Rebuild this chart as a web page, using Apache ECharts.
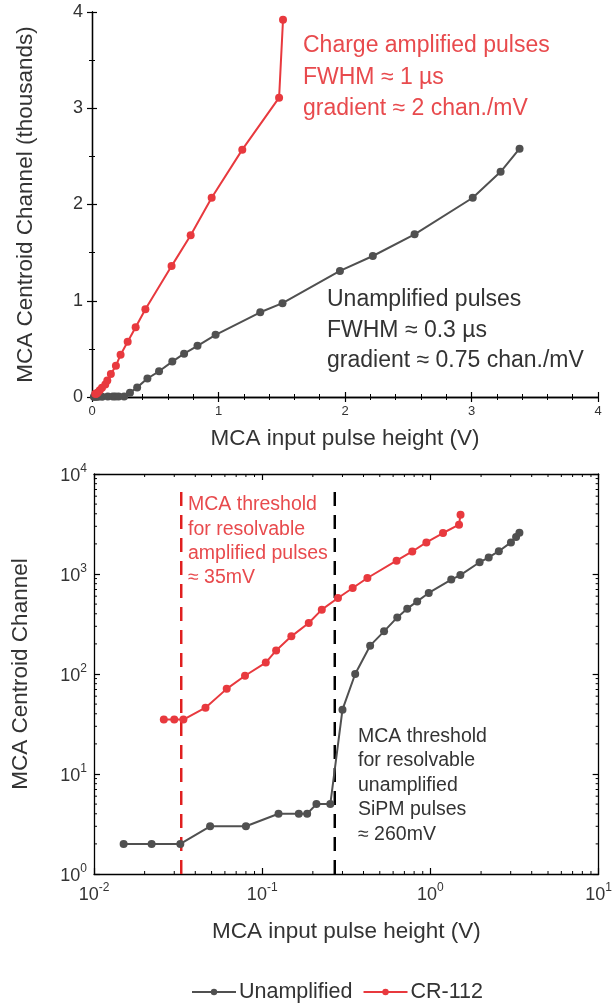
<!DOCTYPE html>
<html><head><meta charset="utf-8">
<script src="https://cdn.jsdelivr.net/npm/echarts@6/dist/echarts.min.js"></script>
<style>html,body{margin:0;padding:0;background:#fff}#c{width:615px;height:1003px}</style>
</head><body><div id="c"></div>
<script>
// ---- data (pulse height in V, centroid channel) ----
const unampX = [0.015, 0.022, 0.0326, 0.049, 0.080, 0.125, 0.165, 0.185, 0.21, 0.254, 0.30, 0.357, 0.438, 0.53, 0.635, 0.728, 0.834, 0.977, 1.33, 1.506, 1.96, 2.22, 2.55, 3.01, 3.23, 3.38];
const unampY = [2, 2, 2, 3, 3, 4, 4, 4, 5, 5, 44, 100, 192, 267, 368, 450, 532, 646, 880, 975, 1310, 1465, 1690, 2070, 2340, 2580];
const ampX = [0.026, 0.030, 0.034, 0.046, 0.0615, 0.079, 0.105, 0.121, 0.149, 0.189, 0.226, 0.282, 0.345, 0.422, 0.629, 0.78, 0.946, 1.188, 1.479, 1.51];
const ampY = [35, 35, 35, 46, 71, 96, 130, 172, 238, 324, 440, 575, 724, 912, 1360, 1680, 2070, 2570, 3110, 3920];
const seriesNames = ['Unamplified', 'CR-112'];
const thresholdAmp = 0.033;   // V
const thresholdUnamp = 0.27;  // V
const thresholdSpan = [1, 8000]; // channel range of the dashed threshold lines
const logMinorX = [0.02,0.03,0.04,0.05,0.06,0.07,0.08,0.09,0.2,0.3,0.4,0.5,0.6,0.7,0.8,0.9,2,3,4,5,6,7,8,9];
const logMinorY = [2,3,4,5,6,7,8,9,20,30,40,50,60,70,80,90,200,300,400,500,600,700,800,900,2000,3000,4000,5000,6000,7000,8000,9000];

const FONT = 'Liberation Sans, Arial, sans-serif';
const GRAY = '#505050';
const RED = '#e8393e';
const TXT = '#333333';

const pair = (xs, ys, k) => xs.map((x, i) => [x, ys[i] / k]);

const linAxisCommon = {
  type: 'value', min: 0, max: 4, interval: 1,
  axisLine: { show: true, lineStyle: { color: '#000', width: 1.3 } },
  axisTick: { show: true, inside: true, length: 5, lineStyle: { color: '#000', width: 1.2 } },
  splitLine: { show: false },
};
const logAxisCommon = {
  type: 'log', logBase: 10,
  axisLine: { show: true, lineStyle: { color: '#000', width: 1.3 } },
  axisTick: { show: true, inside: true, length: 6, lineStyle: { color: '#000', width: 1.2 } },
  splitLine: { show: false },
  minorTick: { show: false }
};
const logLabel = {
  fontFamily: FONT, color: TXT,
  formatter: v => '{b|10}{s|' + Math.round(Math.log10(v)) + '}',
  rich: {
    b: { fontSize: 18, lineHeight: 22, fontFamily: FONT, color: TXT, verticalAlign: 'bottom' },
    s: { fontSize: 12, lineHeight: 12, fontFamily: FONT, color: TXT, verticalAlign: 'top' }
  }
};

const chart = echarts.init(document.getElementById('c'), null, { renderer: 'canvas' });

const lineSeries = (name, data, color, xi, yi) => ({
  name, type: 'line', data, xAxisIndex: xi, yAxisIndex: yi,
  symbol: 'circle', symbolSize: 8, showSymbol: true,
  lineStyle: { color, width: 2 }, itemStyle: { color }, emphasis: { disabled: true },
  z: 3
});
const dashSeries = (name, x, color) => ({
  name, type: 'line', xAxisIndex: 2, yAxisIndex: 2, silent: true, z: 2,
  data: thresholdSpan.map(y => [x, y]), symbol: 'none',
  lineStyle: { color, width: 2.5, type: [14, 9] }, emphasis: { disabled: true }
});

const option = {
  animation: false,
  textStyle: { fontFamily: FONT },
  grid: [
    { left: 92, top: 12, width: 506, height: 385 },
    { left: 94, top: 474, width: 507, height: 400 }
  ],
  legend: {
    data: seriesNames, left: 186, top: 976, itemWidth: 44, itemHeight: 8, itemGap: 10,
    textStyle: { fontSize: 21.5, color: TXT, fontFamily: FONT, padding: [0, 0, 0, -2] }
  },
  xAxis: [
    Object.assign({}, linAxisCommon, {
      gridIndex: 0, position: 'bottom',
      minorTick: { show: true, splitNumber: 5, length: 3, lineStyle: { color: '#000', width: 1 } },
      axisLabel: { fontSize: 13, color: TXT, margin: 8, fontFamily: FONT },
      name: 'MCA input pulse height (V)', nameLocation: 'middle', nameGap: 30,
      nameTextStyle: { fontSize: 22.5, color: TXT, fontFamily: FONT }
    }),
    Object.assign({}, linAxisCommon, {
      gridIndex: 0, position: 'top',
      minorTick: { show: true, splitNumber: 5, length: 3, lineStyle: { color: '#000', width: 1 } },
      axisLabel: { show: false }
    }),
    Object.assign({}, logAxisCommon, {
      gridIndex: 1, position: 'bottom', min: 0.01, max: 10,
      axisLabel: Object.assign({ margin: 8 }, logLabel),
      name: 'MCA input pulse height (V)', nameLocation: 'middle', nameGap: 46,
      nameTextStyle: { fontSize: 22.5, color: TXT, fontFamily: FONT }
    }),
    Object.assign({}, logAxisCommon, {
      gridIndex: 1, position: 'top', min: 0.01, max: 10, axisLabel: { show: false }
    })
  ],
  yAxis: [
    Object.assign({}, linAxisCommon, {
      gridIndex: 0, position: 'left',
      minorTick: { show: true, splitNumber: 2, length: 3, lineStyle: { color: '#000', width: 1 } },
      axisLabel: { fontSize: 18, color: TXT, margin: 9, fontFamily: FONT },
      name: 'MCA Centroid Channel (thousands)', nameLocation: 'middle', nameGap: 55,
      nameTextStyle: { fontSize: 22.5, color: TXT, fontFamily: FONT }
    }),
    Object.assign({}, linAxisCommon, {
      gridIndex: 0, position: 'right',
      minorTick: { show: true, splitNumber: 2, length: 3, lineStyle: { color: '#000', width: 1 } },
      axisLabel: { show: false }
    }),
    Object.assign({}, logAxisCommon, {
      gridIndex: 1, position: 'left', min: 1, max: 10000,
      axisLabel: Object.assign({ margin: 7 }, logLabel),
      name: 'MCA Centroid Channel', nameLocation: 'middle', nameGap: 62,
      nameTextStyle: { fontSize: 22.5, color: TXT, fontFamily: FONT }
    }),
    Object.assign({}, logAxisCommon, {
      gridIndex: 1, position: 'right', min: 1, max: 10000, axisLabel: { show: false }
    })
  ],
  series: [
    lineSeries(seriesNames[0], pair(unampX, unampY, 1000), GRAY, 0, 0),
    lineSeries(seriesNames[1], pair(ampX, ampY, 1000), RED, 0, 0),
    dashSeries('thresholdAmp', thresholdAmp, '#e01f1f'),
    dashSeries('thresholdUnamp', thresholdUnamp, '#000000'),
    lineSeries(seriesNames[0], pair(unampX, unampY, 1), GRAY, 2, 2),
    lineSeries(seriesNames[1], pair(ampX, ampY, 1), RED, 2, 2),
    {
      type: 'custom', xAxisIndex: 2, yAxisIndex: 2, silent: true, clip: false, z: 5,
      data: logMinorX.map(v => [v, 1]),
      renderItem: (params, api) => {
        const v = api.value(0);
        const b = api.coord([v, 1]);
        const t = api.coord([v, 10000]);
        return { type: 'group', children: [
          { type: 'line', shape: { x1: b[0], y1: b[1], x2: b[0], y2: b[1] - 3 }, style: { stroke: '#000', lineWidth: 1 } },
          { type: 'line', shape: { x1: t[0], y1: t[1], x2: t[0], y2: t[1] + 3 }, style: { stroke: '#000', lineWidth: 1 } }
        ]};
      }
    },
    {
      type: 'custom', xAxisIndex: 2, yAxisIndex: 2, silent: true, clip: false, z: 5,
      data: logMinorY.map(v => [0.01, v]),
      renderItem: (params, api) => {
        const v = api.value(1);
        const l = api.coord([0.01, v]);
        const r = api.coord([10, v]);
        return { type: 'group', children: [
          { type: 'line', shape: { x1: l[0], y1: l[1], x2: l[0] + 3, y2: l[1] }, style: { stroke: '#000', lineWidth: 1 } },
          { type: 'line', shape: { x1: r[0], y1: r[1], x2: r[0] - 3, y2: r[1] }, style: { stroke: '#000', lineWidth: 1 } }
        ]};
      }
    }
  ],
  graphic: [
    { type: 'text', left: 303, top: 30, silent: true, style: {
      text: 'Charge amplified pulses\nFWHM \u2248 1 \u00b5s\ngradient \u2248 2 chan./mV',
      fontSize: 23, lineHeight: 31.5, fill: '#e84a4d', fontFamily: FONT } },
    { type: 'text', left: 327, top: 284, silent: true, style: {
      text: 'Unamplified pulses\nFWHM \u2248 0.3 \u00b5s\ngradient \u2248 0.75 chan./mV',
      fontSize: 23, lineHeight: 30.8, fill: '#333333', fontFamily: FONT } },
    { type: 'text', left: 188, top: 493, silent: true, style: {
      text: 'MCA threshold\nfor resolvable\namplified pulses\n\u2248 35mV',
      fontSize: 19.5, lineHeight: 24.1, fill: '#e84a4d', fontFamily: FONT } },
    { type: 'text', left: 358, top: 724, silent: true, style: {
      text: 'MCA threshold\nfor resolvable\nunamplified\nSiPM pulses\n\u2248 260mV',
      fontSize: 19.5, lineHeight: 24.6, fill: '#333333', fontFamily: FONT } }
  ]
};
chart.setOption(option);
</script></body></html>
